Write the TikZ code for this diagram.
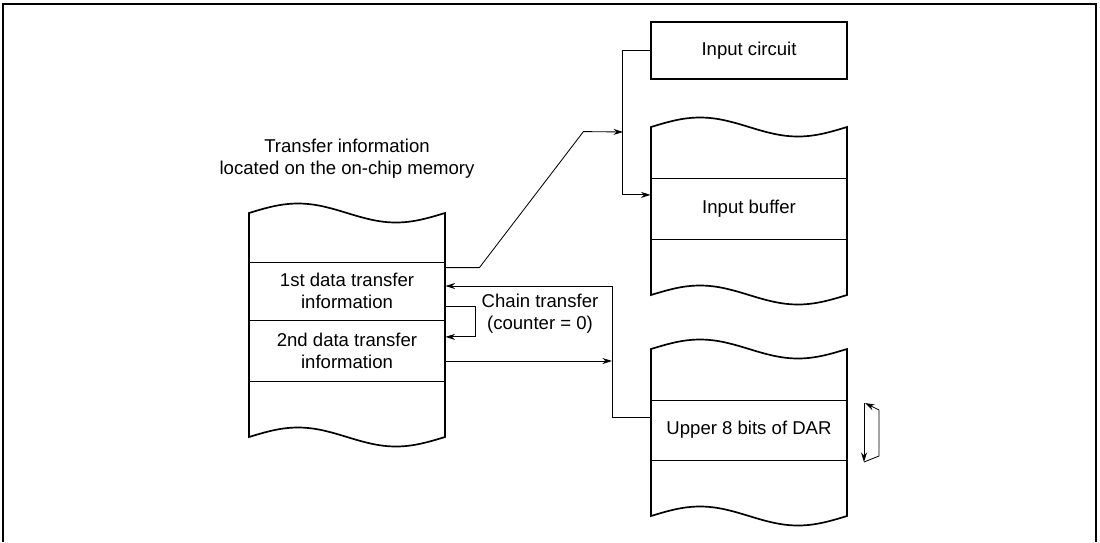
\documentclass[tikz,border=0pt]{standalone}
\usepackage{fontspec}
\setmainfont{Liberation Sans}
\usetikzlibrary{arrows.meta}

\tikzset{
  memline/.style={line width=1.2pt},
  rowbox/.style={draw, rectangle, align=center, line width=0.6pt, minimum width=4.9cm, inner sep=0pt, font=\fontsize{13.2}{15.8}\selectfont},
  textlabel/.style={align=center, inner sep=0pt, font=\fontsize{13.2}{15.8}\selectfont}
}

% wavy memory block: left x, top edge y, bottom edge y
\newcommand{\memstack}[3]{%
  \draw[memline] plot[domain=0:196, samples=41, smooth] ({#1+\x},{#2-9.5*sin(1.8367*\x)})
    -- plot[domain=196:0, samples=41, smooth] ({#1+\x},{#3-9.5*sin(1.8367*\x)}) -- cycle;}

\begin{document}
\begin{tikzpicture}[>={Stealth[length=2.4mm,width=1.5mm]}, x=0.025cm, y=-0.025cm, line width=0.6pt]
\useasboundingbox (0,0) rectangle (1100,542);
\draw[line width=1.5pt] (3,542) -- (3,4) -- (1096,4) -- (1096,542);

\memstack{249}{213}{437}
\memstack{651}{127}{295}
\memstack{651}{349}{516}

\node[textlabel] (title) at (347,159) {Transfer information\\located on the on-chip memory};
\node[rowbox, minimum height=1.45cm] (first) at (347,291) {1st data transfer\\information};
\node[rowbox, minimum height=1.525cm] (second) at (347,350.5) {2nd data transfer\\information};
\node[rowbox, memline, minimum height=1.425cm] (circuit) at (749,50.5) {Input circuit};
\node[rowbox, minimum height=1.525cm] (buffer) at (749,208.5) {Input buffer};
\node[rowbox, minimum height=1.5cm] (dar) at (749,430) {Upper 8 bits of DAR};
\node[textlabel] (chain) at (540,314) {Chain transfer\\(counter = 0)};

\coordinate (bus) at (623,132);
\coordinate (chainup) at (612,286);
\coordinate (chainin) at (612,361);

\draw[->] (circuit.west) -- ++(-28,0) |- ([yshift=3.4mm]buffer.west);
\draw[->] ([yshift=-1.5mm]first.north east) -- ++(34,0) -- ++(104,-136) -- (bus);
\draw[->] ([yshift=3.25mm]dar.west) -| (chainup) -- (chainup -| first.east);
\draw[->] (second.east |- chainin) -- (chainin);
\draw[->] ([yshift=-3.75mm]first.east) -- ++(30,0) |- ([yshift=3.4mm]second.east);

\draw[->] (864,403) -- (864,462);
\draw[->] (864,462) -- (879,456) -- (879,410) -- (865,403);
\end{tikzpicture}
\end{document}
